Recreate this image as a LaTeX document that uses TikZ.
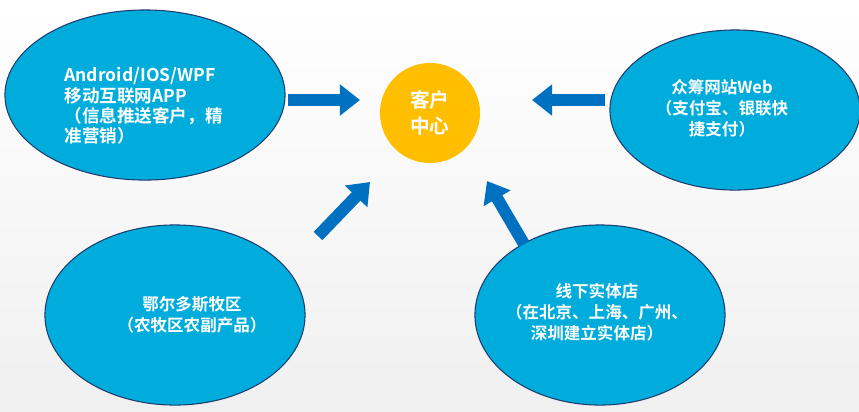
\documentclass[tikz,border=0pt]{standalone}
\usepackage{fontspec}
\setmainfont{Liberation Sans}
\newfontfamily\cjk{Noto Sans CJK SC}[BoldFont={Noto Sans CJK SC Bold}]
\usetikzlibrary{arrows.meta,shapes.geometric}
\definecolor{cy}{RGB}{0,172,220}
\definecolor{bd}{RGB}{30,60,110}
\definecolor{ar}{RGB}{0,112,192}
\definecolor{og}{RGB}{255,190,0}
\begin{document}
\begin{tikzpicture}[x=0.01cm,y=-0.01cm,
  ell/.style={ellipse,draw=bd,line width=0.3pt,fill=cy,inner sep=0pt},
  txt/.style={text=white,font=\cjk\bfseries\fontsize{4.7pt}{5.9pt}\selectfont,align=center},
  bigar/.style={ar,line width=0.12cm,-{Triangle[length=0.2cm,width=0.3cm]}}]
\shade[top color=white,bottom color=gray!12] (0,0) rectangle (859,411);
\useasboundingbox (0,0) rectangle (859,411);
\node[ell,minimum width=2.8cm,minimum height=1.7cm] (tl) at (145,95) {};
\node[ell,minimum width=2.5cm,minimum height=1.6cm] (tr) at (735,110) {};
\node[ell,minimum width=2.6cm,minimum height=1.8cm] (bl) at (175,315) {};
\node[ell,minimum width=2.5cm,minimum height=1.8cm] (br) at (600,315) {};
\node[circle,fill=og,minimum size=1cm,inner sep=0pt,txt,font=\cjk\bfseries\fontsize{5.6pt}{7.4pt}\selectfont] (c) at (430,113) {客户\\中心};
\node[txt,align=left,anchor=north west,font=\cjk\bfseries\fontsize{5pt}{5.8pt}\selectfont] (tlt) at (52,55) {Android/IOS/WPF\\移动互联网APP\\（信息推送客户，精\\准营销）};
\node[txt] (trt) at (722,108) {众筹网站Web\\（支付宝、银联快\\捷支付）};
\node[txt] (blt) at (192,315) {鄂尔多斯牧区\\（农牧区农副产品）};
\node[txt] (brt) at (597,312) {线下实体店\\（在北京、上海、广州、\\深圳建立实体店）};
\coordinate (a1) at (288,100); \coordinate (a2) at (360,100);
\coordinate (b1) at (605,100); \coordinate (b2) at (532,100);
\coordinate (c1) at (318,236); \coordinate (c2) at (370,182);
\coordinate (d1) at (524,244); \coordinate (d2) at (487,181);
\draw[bigar] (a1) -- (a2);
\draw[bigar] (b1) -- (b2);
\draw[bigar] (c1) -- (c2);
\draw[bigar] (d1) -- (d2);
\end{tikzpicture}
\end{document}
